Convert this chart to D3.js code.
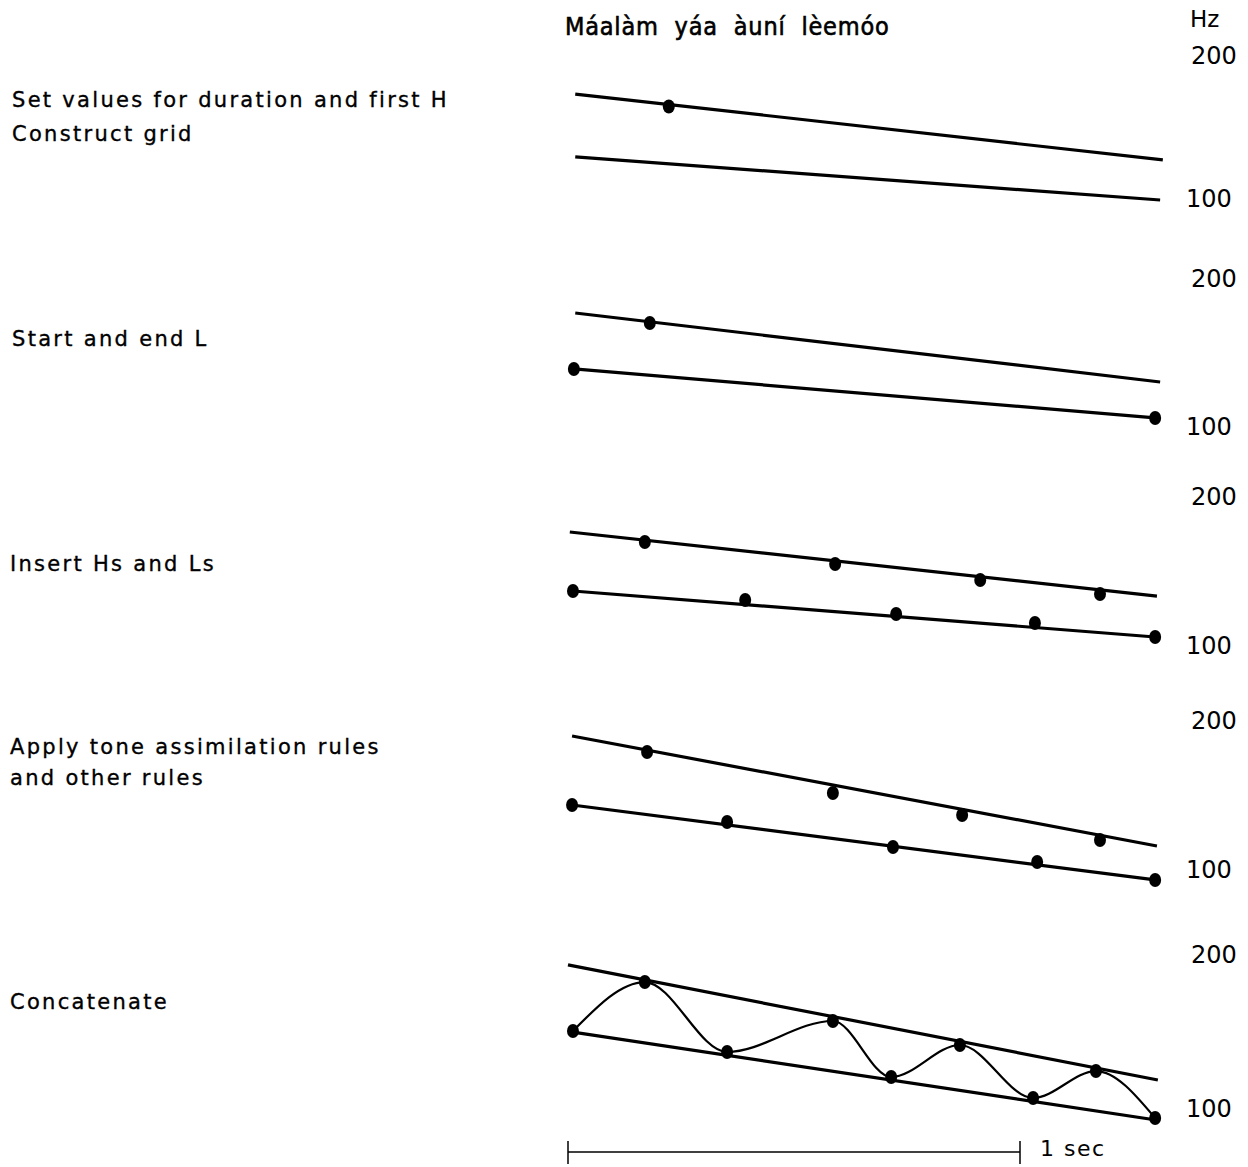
<!DOCTYPE html>
<html>
<head>
<meta charset="utf-8">
<script src="https://cdn.jsdelivr.net/npm/d3@7"></script>
<style>
  html, body { margin: 0; padding: 0; background: #fff; }
  svg { display: block; }
  text { fill: #000; white-space: pre; }
</style>
</head>
<body>
<svg id="chart" width="1248" height="1167"></svg>
<script>
// Stages of F0 contour construction for a Hausa sentence.
// Time in seconds, F0 in Hz. Each stage: topline, baseline, tone targets.

const sentence = "Máalàm  yáa  àuní  lèemóo";
const stageLabels = [
  ["Set values for duration and first H", "Construct grid"],
  ["Start and end L"],
  ["Insert Hs and Ls"],
  ["Apply tone assimilation rules", "and other rules"],
  ["Concatenate"]
];
const hzTicks = [200, 100];
const unitLabel = "Hz";
const scaleBarLabel = "1 sec";
const scaleBarSeconds = [0, 1];

// stage 1
const top1 = [[0.016, 174.1], [1.316, 128.0]];
const base1 = [[0.016, 130.1], [1.310, 100.0]];
const dots1 = [[0.223, 165.4]];

// stage 2
const top2 = [[0.016, 177.7], [1.310, 131.1]];
const base2 = [[0.013, 139.9], [1.299, 106.8]];
const dots2 = [[0.181, 170.9], [0.013, 139.9], [1.299, 106.8]];

// stage 3
const top3 = [[0.004, 177.2], [1.303, 134.2]];
const base3 = [[0.011, 137.6], [1.299, 106.7]];
const dots3 = [
  [0.170, 170.5], [0.591, 155.7], [0.912, 145.0], [1.177, 135.6],
  [0.011, 137.6], [0.392, 131.5], [0.726, 122.1], [1.033, 116.1], [1.299, 106.7]
];

// stage 4
const top4 = [[0.009, 190.6], [1.303, 116.8]];
const base4 = [[0.009, 144.3], [1.299, 94.0]];
const dots4 = [
  [0.175, 179.9], [0.586, 152.3], [0.872, 137.6], [1.177, 120.8],
  [0.009, 144.3], [0.352, 132.9], [0.719, 116.1], [1.038, 106.0], [1.299, 94.0]
];

// stage 5
const top5 = [[0.000, 194.2], [1.305, 119.5]];
const base5 = [[0.011, 150.6], [1.301, 93.5]];
const dots5 = [
  [0.011, 151.3], [0.170, 183.1], [0.352, 137.7], [0.586, 157.8], [0.715, 121.4],
  [0.867, 142.2], [1.029, 107.8], [1.168, 125.3], [1.299, 94.8]
];
const contour5 = dots5;

const stages = [
  { top: top1, base: base1, dots: dots1 },
  { top: top2, base: base2, dots: dots2 },
  { top: top3, base: base3, dots: dots3 },
  { top: top4, base: base4, dots: dots4 },
  { top: top5, base: base5, dots: dots5, contour: contour5 }
];

// layout: pixel rows of the 200 Hz and 100 Hz levels in each panel
const panelY = [
  [57, 200], [280, 428], [498, 647], [722, 871], [956, 1110]
];
const labelRows = [[101, 135], [340], [565], [748, 779], [1003]];

const svg = d3.select("#chart");
const x = d3.scaleLinear().domain([0, 1]).range([568, 1020]);

const sansFont = "'DejaVu Sans', 'Noto Sans', sans-serif";

// heading
svg.append("text")
  .attr("x", 565).attr("y", 28)
  .attr("dominant-baseline", "middle")
  .style("font-family", "'DejaVu Sans Condensed', 'DejaVu Sans', sans-serif")
  .style("font-stretch", "condensed")
  .style("font-size", "25px")
  .style("letter-spacing", "0.8px")
  .attr("stroke", "#000").attr("stroke-width", 0.6)
  .text(sentence);

svg.append("text")
  .attr("x", 1190).attr("y", 20)
  .attr("dominant-baseline", "middle")
  .style("font-family", sansFont)
  .style("font-size", "23px")
  .text(unitLabel);

const line = d3.line().x(d => x(d[0]));

stages.forEach((s, i) => {
  const y = d3.scaleLinear().domain([200, 100]).range(panelY[i]);
  const g = svg.append("g");
  line.y(d => y(d[1]));

  // right-hand Hz labels
  g.selectAll("text.hz").data(hzTicks).join("text")
    .attr("class", "hz")
    .attr("x", d => d === 200 ? 1191 : 1186)
    .attr("y", d => y(d))
    .attr("dominant-baseline", "middle")
    .style("font-family", sansFont)
    .style("font-size", "24px")
    .text(d => d);

  // stage description
  stageLabels[i].forEach((t, k) => {
    g.append("text")
      .attr("x", i >= 2 ? 10 : 12)
      .attr("y", labelRows[i][k])
      .attr("dominant-baseline", "middle")
      .style("font-family", sansFont)
      .style("font-size", "21px")
      .style("letter-spacing", "2.3px")
      .attr("stroke", "#000").attr("stroke-width", 0.35)
      .text(t);
  });

  g.append("path").datum(s.top).attr("d", line)
    .attr("fill", "none").attr("stroke", "#000").attr("stroke-width", 3.2);
  g.append("path").datum(s.base).attr("d", line)
    .attr("fill", "none").attr("stroke", "#000").attr("stroke-width", 3.2);

  if (s.contour) {
    g.append("path").datum(s.contour)
      .attr("d", d3.line().x(d => x(d[0])).y(d => y(d[1])).curve(d3.curveMonotoneX))
      .attr("fill", "none").attr("stroke", "#000").attr("stroke-width", 2.2);
  }

  g.selectAll("ellipse").data(s.dots).join("ellipse")
    .attr("cx", d => x(d[0]))
    .attr("cy", d => y(d[1]))
    .attr("rx", 6).attr("ry", 7)
    .attr("fill", "#000");
});

// one-second scale bar
const barY = 1152;
const bar = svg.append("g").attr("stroke", "#000").attr("stroke-width", 1.5);
bar.append("line")
  .attr("x1", x(scaleBarSeconds[0])).attr("x2", x(scaleBarSeconds[1]))
  .attr("y1", barY).attr("y2", barY);
scaleBarSeconds.forEach(t => {
  bar.append("line")
    .attr("x1", x(t)).attr("x2", x(t))
    .attr("y1", barY - 11).attr("y2", barY + 12);
});
svg.append("text")
  .attr("x", 1040).attr("y", 1150)
  .attr("dominant-baseline", "middle")
  .style("font-family", sansFont)
  .style("font-size", "22px")
  .style("letter-spacing", "1.5px")
  .text(scaleBarLabel);
</script>
</body>
</html>
